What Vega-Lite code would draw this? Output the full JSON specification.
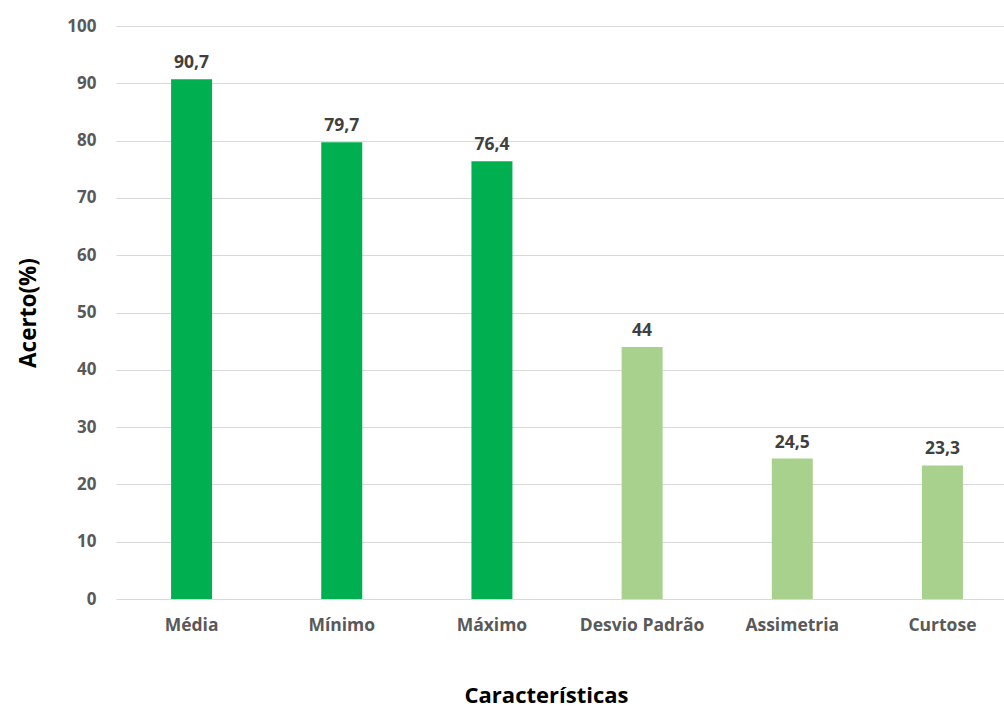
{
  "$schema": "https://vega.github.io/schema/vega-lite/v6.json",
  "width": 888,
  "height": 573,
  "autosize": "none",
  "padding": {"left": 116, "top": 26, "right": 0, "bottom": 112},
  "background": "white",
  "data": {
    "values": [
      {"caracteristica": "Média", "acerto": 90.7, "grupo": "A"},
      {"caracteristica": "Mínimo", "acerto": 79.7, "grupo": "A"},
      {"caracteristica": "Máximo", "acerto": 76.4, "grupo": "A"},
      {"caracteristica": "Desvio Padrão", "acerto": 44, "grupo": "B"},
      {"caracteristica": "Assimetria", "acerto": 24.5, "grupo": "B"},
      {"caracteristica": "Curtose", "acerto": 23.3, "grupo": "B"}
    ]
  },
  "transform": [
    {"calculate": "replace(format(datum.acerto, '.1~f'), '.', ',')", "as": "rotulo"}
  ],
  "encoding": {
    "x": {
      "field": "caracteristica",
      "type": "nominal",
      "sort": null,
      "scale": {"paddingInner": 0.727, "paddingOuter": 0.32, "align": 0.573},
      "axis": {
        "title": "Características",
        "titleFont": "Open Sans",
        "titleFontSize": 22,
        "titleFontWeight": "bold",
        "titleColor": "#000000",
        "titlePadding": 52,
        "titleX": 430,
        "labelAngle": 0,
        "labelFont": "Open Sans",
        "labelFontSize": 17.5,
        "labelFontWeight": "bold",
        "labelColor": "#595959",
        "labelPadding": 17,
        "ticks": false,
        "domain": false
      }
    },
    "y": {
      "field": "acerto",
      "type": "quantitative",
      "scale": {"domain": [0, 100]},
      "axis": {
        "title": "Acerto(%)",
        "titleFont": "Open Sans",
        "titleFontSize": 22.5,
        "titleFontWeight": "bold",
        "titleColor": "#000000",
        "titlePadding": 26,
        "values": [0, 10, 20, 30, 40, 50, 60, 70, 80, 90, 100],
        "labelFont": "Open Sans",
        "labelFontSize": 17,
        "labelFontWeight": "bold",
        "labelColor": "#595959",
        "labelPadding": 20,
        "ticks": false,
        "domain": false,
        "grid": true,
        "gridColor": "#d9d9d9",
        "gridWidth": 1
      }
    }
  },
  "layer": [
    {
      "mark": {"type": "bar"},
      "encoding": {
        "color": {
          "field": "grupo",
          "type": "nominal",
          "scale": {"domain": ["A", "B"], "range": ["#00b050", "#a9d18e"]},
          "legend": null
        }
      }
    },
    {
      "mark": {
        "type": "text",
        "baseline": "bottom",
        "dy": -7,
        "font": "Open Sans",
        "fontSize": 17.5,
        "fontWeight": "bold",
        "color": "#404040"
      },
      "encoding": {"text": {"field": "rotulo"}}
    }
  ],
  "config": {"view": {"stroke": null}}
}
